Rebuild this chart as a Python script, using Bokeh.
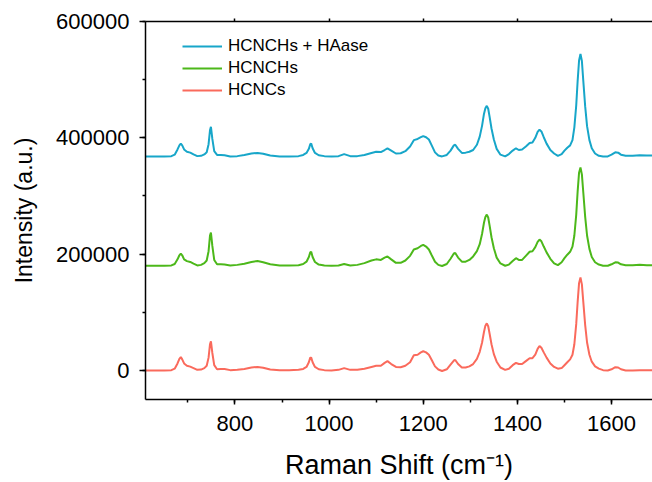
from bokeh.plotting import figure
from bokeh.models import (LinearAxis, SingleIntervalTicker, NumeralTickFormatter,
                          Range1d, Legend, LegendItem)
from bokeh.embed import file_html
from bokeh.resources import INLINE

# Raman shift grid (cm-1)
shift = [610, 630, 650, 665, 672, 678, 682, 685, 688, 692, 698, 705, 712, 720, 728, 735, 740, 744, 747, 749,
         752, 756, 762, 770, 778, 790, 805, 820, 835, 848, 860, 875, 895, 915, 935, 945, 952, 957, 960, 962,
         965, 970, 978, 990, 1005, 1020, 1032, 1045, 1060, 1075, 1090, 1100, 1110, 1118, 1124, 1132, 1142, 1152,
         1162, 1172, 1180, 1188, 1195, 1200, 1206, 1212, 1218, 1225, 1232, 1240, 1250, 1258, 1265, 1268, 1274,
         1282, 1290, 1298, 1306, 1314, 1320, 1325, 1329, 1332, 1335, 1338, 1341, 1345, 1350, 1356, 1364, 1374,
         1382, 1390, 1397, 1403, 1410, 1418, 1426, 1432, 1438, 1443, 1447, 1451, 1456, 1462, 1470, 1478, 1486,
         1494, 1500, 1506, 1512, 1517, 1521, 1525, 1528, 1531, 1534, 1537, 1540, 1544, 1548, 1553, 1558, 1565,
         1573, 1582, 1592, 1600, 1608, 1614, 1620, 1630, 1645, 1660, 1675, 1690]

# Intensities above each spectrum's own baseline (a.u.)
hcncs = [0, 0, 0, 500, 3000, 12000, 20000, 23000, 19000, 12000, 8000, 6500, 4000, 1000, 1500, 4000, 8000, 22000, 45000, 50000,
         30000, 9000, 2000, 2500, 2500, 500, 1000, 2500, 5000, 6000, 4500, 1500, 500, 500, 1000, 2500, 6000, 14000, 22000, 22000,
         14000, 6000, 2000, 500, 0, 1000, 4000, 1000, 1000, 3000, 6000, 8000, 8000, 13000, 16000, 11000, 6000, 5500,
         8000, 14000, 26000, 27000, 31000, 33000, 31000, 27000, 18000, 7000, 1500, -1000, 2000, 10000, 17000, 18000, 11000,
         5000, 5000, 7000, 11000, 20000, 32000, 48000, 66000, 77000, 81000, 76000, 63000, 45000, 28000, 15000, 5000, 1000,
         3000, 9000, 13000, 11000, 11000, 16000, 21000, 21000, 27000, 37000, 42000, 39000, 31000, 22000, 12000, 6000, 3000,
         4000, 9000, 14000, 19000, 27000, 45000, 80000, 118000, 150000, 160000, 148000, 118000, 78000, 48000, 27000, 15000, 7000,
         3000, 500, 0, 2000, 5500, 5000, 2000, 0, 0, 500, 500, 0]

hcnchs = [0, 0, 0, 500, 3000, 11000, 18000, 21000, 18000, 11000, 8000, 6500, 3500, 500, 1500, 4500, 9000, 25000, 52000, 57000,
          34000, 10000, 2500, 2500, 2000, 500, 1500, 3500, 6500, 8000, 6000, 2500, 500, 500, 1000, 3000, 7000, 15000, 23000, 24000,
          15000, 6500, 2000, 500, 0, 500, 3000, 500, 1500, 4500, 9000, 11000, 10000, 14000, 16000, 11000, 5000, 5000,
          9000, 17000, 28000, 30000, 34000, 36000, 33000, 28000, 18000, 7000, 1500, -500, 3000, 12000, 21000, 22000, 14000,
          7000, 7000, 10000, 16000, 25000, 37000, 55000, 74000, 84000, 88000, 83000, 69000, 49000, 30000, 14000, 4000, 0,
          2000, 8000, 13000, 10000, 10000, 17000, 24000, 25000, 32000, 41000, 45000, 42000, 33000, 23000, 12000, 4000, 1000,
          6000, 13000, 19000, 24000, 33000, 52000, 88000, 128000, 160000, 169000, 157000, 126000, 84000, 52000, 29000, 15000, 6000,
          2000, 0, 0, 2500, 6000, 5500, 2500, 1000, 1000, 1500, 1000, 1000]

hcnchs_haase = [0, 0, 0, 500, 3000, 12000, 19000, 22000, 19000, 12000, 8000, 6500, 3500, 500, 1000, 3500, 7000, 21000, 45000, 51000,
                30000, 9000, 2500, 2500, 2000, 0, 500, 2500, 5000, 6000, 4500, 1500, 0, 0, 500, 2500, 6000, 13000, 21000, 22000,
                14000, 6000, 2000, 500, 0, 500, 4000, 500, 500, 2500, 6000, 8000, 7500, 11000, 14000, 10000, 5000, 5500,
                9000, 17000, 28000, 30000, 33000, 35000, 33000, 29000, 19000, 7000, 1500, 0, 2500, 10000, 19000, 20000, 13000,
                6000, 6500, 8000, 11000, 20000, 34000, 53000, 73000, 83000, 87000, 82000, 68000, 48000, 29000, 13000, 3000, 0,
                4000, 10000, 14000, 11000, 12000, 17000, 23000, 24000, 32000, 42000, 46000, 43000, 33000, 22000, 11000, 5000, 1000,
                4000, 10000, 15000, 19000, 28000, 50000, 88000, 130000, 165000, 176000, 164000, 130000, 86000, 52000, 28000, 14000, 5000,
                1000, 0, 0, 3000, 7000, 6500, 3000, 1000, 1000, 2000, 1500, 1500]

# Vertical stacking offsets of the spectra
offset_hcncs = 0
offset_hcnchs = 180000
offset_haase = 368000

series_names = ["HCNCHs + HAase", "HCNCHs", "HCNCs"]
series_colors = ["#17a6c9", "#4cb81a", "#fa6a5c"]

FONT = "Liberation Sans"

p = figure(width=652, height=482, output_backend="svg", toolbar_location=None,
           x_range=Range1d(610, 1687), y_range=Range1d(-50000, 600000),
           x_axis_location=None, y_axis_location=None,
           min_border_left=145, min_border_right=0, min_border_top=21, min_border_bottom=83)
p.outline_line_color = None
p.grid.visible = False
p.background_fill_color = "white"
p.border_fill_color = "white"

r_red = p.line(shift, [v + offset_hcncs for v in hcncs], line_color=series_colors[2], line_width=2)
r_green = p.line(shift, [v + offset_hcnchs for v in hcnchs], line_color=series_colors[1], line_width=2)
r_blue = p.line(shift, [v + offset_haase for v in hcnchs_haase], line_color=series_colors[0], line_width=2)


def style(ax, label_size, title_size):
    ax.axis_line_color = "black"
    ax.axis_line_width = 1.5
    ax.major_tick_line_color = "black"
    ax.minor_tick_line_color = "black"
    ax.major_tick_line_width = 1.5
    ax.minor_tick_line_width = 1.5
    ax.major_tick_in = 0
    ax.minor_tick_in = 0
    ax.major_label_text_font = FONT
    ax.major_label_text_font_size = label_size
    ax.major_label_text_color = "black"
    ax.axis_label_text_font = FONT
    ax.axis_label_text_font_style = "normal"
    ax.axis_label_text_font_size = title_size
    ax.axis_label_text_color = "black"


xaxis = LinearAxis(ticker=SingleIntervalTicker(interval=200, num_minor_ticks=2),
                   axis_label="Raman Shift (cm\u207b\u00b9)")
style(xaxis, "22px", "27px")
xaxis.major_tick_out = 5
xaxis.minor_tick_out = 3
xaxis.major_label_standoff = 11
xaxis.axis_label_standoff = 16
p.add_layout(xaxis, "below")

yaxis = LinearAxis(ticker=SingleIntervalTicker(interval=200000, num_minor_ticks=2),
                   formatter=NumeralTickFormatter(format="0"),
                   axis_label="Intensity (a.u.)")
style(yaxis, "22px", "23px")
yaxis.major_tick_out = 6
yaxis.minor_tick_out = 3
yaxis.major_label_standoff = 10
yaxis.axis_label_standoff = 16
p.add_layout(yaxis, "left")

# frame line along the top with small outward ticks, no labels
top = LinearAxis(ticker=SingleIntervalTicker(interval=200, num_minor_ticks=2),
                 major_label_overrides={v: "" for v in range(400, 2001, 200)})
style(top, "1px", "1px")
top.major_tick_out = 3
top.minor_tick_out = 0
top.major_label_standoff = 0
p.add_layout(top, "above")

legend = Legend(items=[LegendItem(label=series_names[0], renderers=[r_blue]),
                       LegendItem(label=series_names[1], renderers=[r_green]),
                       LegendItem(label=series_names[2], renderers=[r_red])],
                location=(37, 299), padding=0, margin=0, spacing=2,
                glyph_width=40, glyph_height=20, label_height=20, label_standoff=6,
                label_text_font=FONT, label_text_font_size="17px", label_text_color="black",
                border_line_color=None, background_fill_alpha=0)
p.add_layout(legend, "center")

open("out.html", "w").write(file_html(p, INLINE))
